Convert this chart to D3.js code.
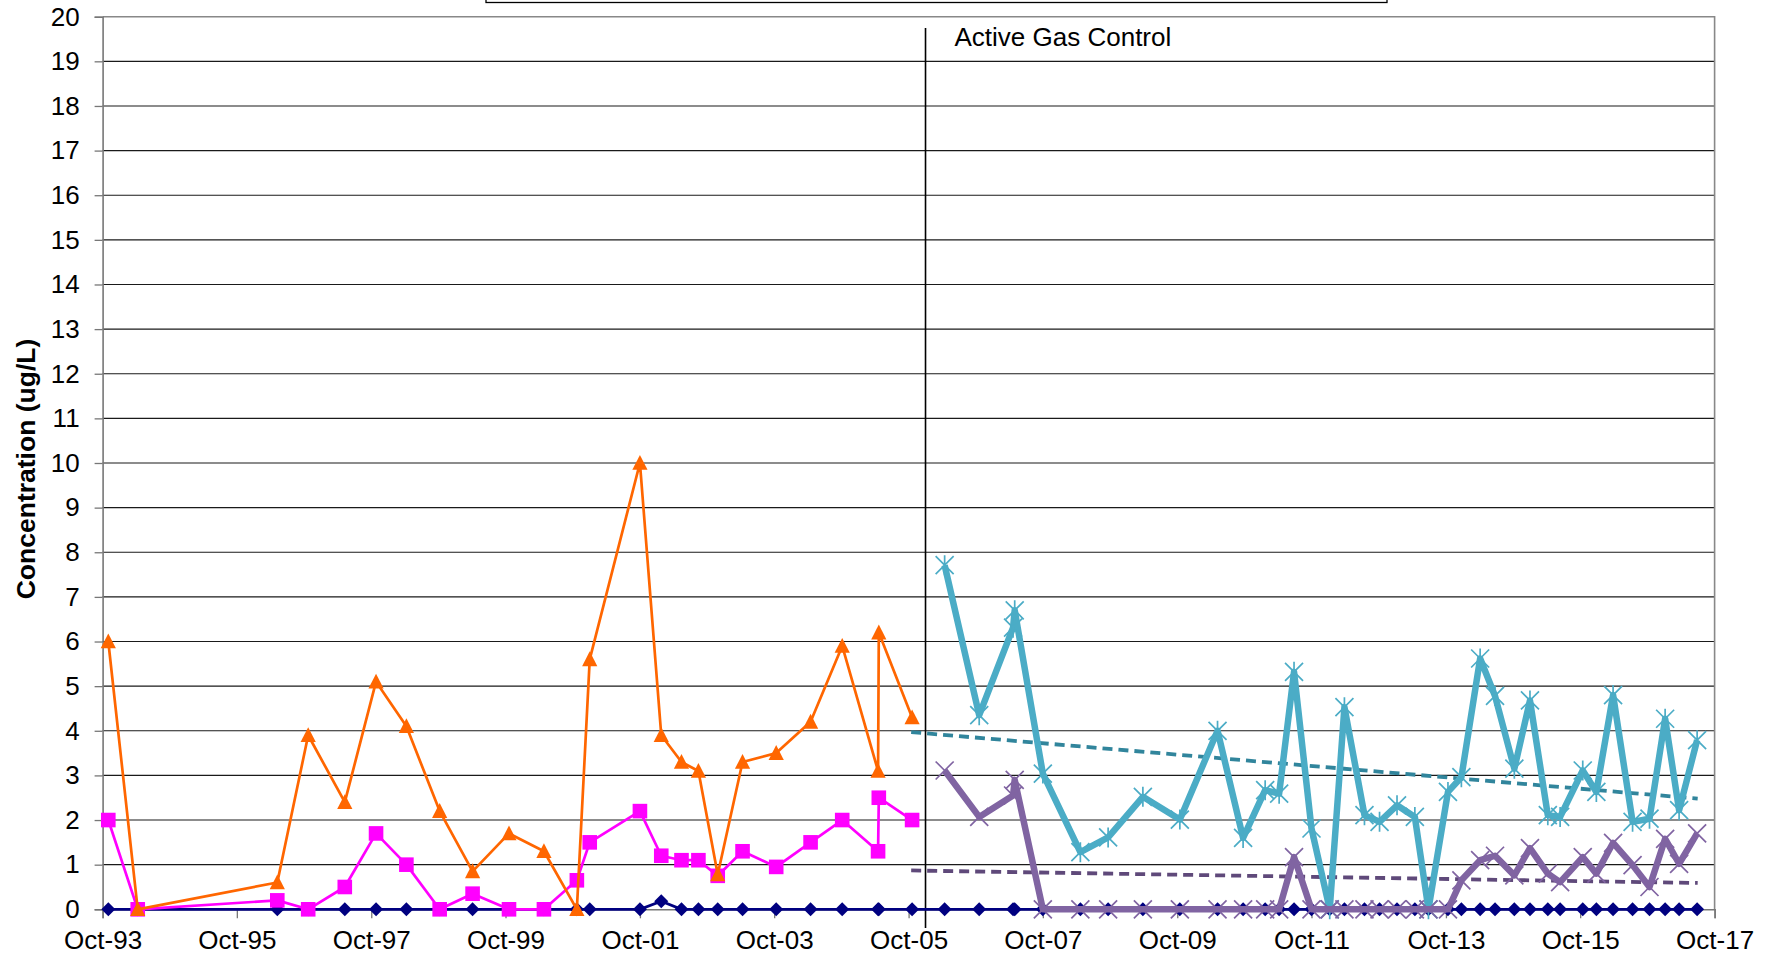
<!DOCTYPE html>
<html><head><meta charset="utf-8">
<script src="https://cdn.jsdelivr.net/npm/d3@7"></script>
<style>body{margin:0;background:#fff} svg{display:block} text{font-family:"Liberation Sans",Arial,sans-serif;fill:#000}</style>
</head><body>
<svg id="chart" width="1771" height="958"></svg>
<script>
// ---------- data ----------
const preDates = ["1993-11-01","1994-04-10","1996-05-08","1996-10-23","1997-05-10","1997-10-27","1998-04-10","1998-10-08","1999-04-05","1999-10-20","2000-04-27","2000-10-23","2001-01-01","2001-10-01","2002-01-25","2002-05-15","2002-08-15","2002-11-28","2003-04-12","2003-10-12","2004-04-16","2004-10-05","2005-04-18","2005-04-22","2005-10-20"];
const orangeValues  = [6.0,0,0.6,3.9,2.4,5.1,4.1,2.2,0.85,1.7,1.3,0,5.6,10.0,3.9,3.3,3.1,0.78,3.3,3.5,4.2,5.9,3.1,6.2,4.3];
const magentaValues = [2.0,0,0.2,0,0.5,1.7,1.0,0,0.35,0,0,0.65,1.5,2.2,1.2,1.1,1.1,0.75,1.3,0.95,1.5,2.0,1.3,2.5,2.0];
const navyPreValues = [0,0,0,0,0,0,0,0,0,0,0,0,0,0,0.18,0,0,0,0,0,0,0,0,0,0];

const postDates = ["2006-04-15","2006-10-20","2007-04-22","2007-05-01","2007-10-01","2008-04-22","2008-09-20","2009-03-28","2009-10-15","2010-05-08","2010-09-24","2011-01-22","2011-04-08","2011-06-28","2011-10-01","2012-01-08","2012-03-28","2012-07-15","2012-10-05","2013-01-08","2013-04-15","2013-06-28","2013-10-12","2013-12-24","2014-04-05","2014-06-25","2014-10-08","2015-01-01","2015-04-08","2015-06-14","2015-10-15","2015-12-28","2016-03-28","2016-07-12","2016-10-12","2017-01-05","2017-03-22","2017-06-28"];
const blueValues   = [7.71,4.35,6.31,6.70,3.04,1.28,1.61,2.52,2.01,4.0,1.60,2.67,2.59,5.32,1.81,0,4.53,2.11,1.96,2.33,2.07,0,2.63,2.96,5.62,4.78,3.15,4.68,2.11,2.07,3.11,2.63,4.80,1.96,2.03,4.27,2.22,3.79];
const purpleValues = [3.11,2.07,2.55,2.9,0,0,0,0,0,0,0,0,0,1.17,0,0,0,0,0,0,0,0,0,0.65,1.1,1.2,0.76,1.37,0.8,0.61,1.17,0.8,1.49,0.99,0.5,1.58,1.02,1.7];
const navyPostValues = [0,0,0,0,0,0,0,0,0,0,0,0,0,0,0,0,0,0,0,0,0,0,0,0,0,0,0,0,0,0,0,0,0,0,0,0,0,0];

const trendDates  = ["2005-10-15","2017-07-01"];
const blueTrend   = [3.97, 2.48];
const purpleTrend = [0.87, 0.59];
const activeGasDate = "2006-01-01";
const activeGasLabel = "Active Gas Control";
const xTickLabels = ["Oct-93","Oct-95","Oct-97","Oct-99","Oct-01","Oct-03","Oct-05","Oct-07","Oct-09","Oct-11","Oct-13","Oct-15","Oct-17"];
const yTicks = [0,1,2,3,4,5,6,7,8,9,10,11,12,13,14,15,16,17,18,19,20];
const yTitle = "Concentration (ug/L)";

// ---------- layout ----------
const L = 102.6, R = 1714.6, T = 16.7, B = 909.3;
const FONT = '"Liberation Sans",Arial,sans-serif';
const parseD = d3.timeParse("%Y-%m-%d");
const parseTick = d3.timeParse("%b-%y");
const tickDates = xTickLabels.map(parseTick);
const x = d3.scaleTime().domain([tickDates[0], tickDates[tickDates.length-1]]).range([L, R]);
const y = d3.scaleLinear().domain([0, 20]).range([B, T]);
const svg = d3.select("#chart");

const zip = (ds, vs) => ds.map((d,i) => ({date: parseD(d), v: vs[i]}));
const pre = {orange: zip(preDates, orangeValues), magenta: zip(preDates, magentaValues)};
const post = {blue: zip(postDates, blueValues), purple: zip(postDates, purpleValues)};
const navy = zip(preDates.concat(postDates), navyPreValues.concat(navyPostValues));

// legend box (cut off at top)
svg.append("rect").attr("x", 486).attr("y", -20).attr("width", 901).attr("height", 22.5)
  .attr("fill", "none").attr("stroke", "#000").attr("stroke-width", 1.3);

// gridlines
svg.append("g").selectAll("line").data(yTicks.filter(t => t > 0 && t < 20)).join("line")
  .attr("x1", L).attr("x2", R).attr("y1", d => y(d)).attr("y2", d => y(d))
  .attr("stroke", "#1a1a1a").attr("stroke-width", 1.1);

// plot border top/right
svg.append("path").attr("d", `M${L},${y(20)}H${R}V${B}`).attr("fill","none").attr("stroke","#888").attr("stroke-width",1.6);

// y axis
const yAxis = d3.axisLeft(y).tickValues(yTicks).tickSize(8).tickPadding(15).tickFormat(d3.format("d"));
const gy = svg.append("g").attr("transform", `translate(${L},0)`).call(yAxis);
gy.select(".domain").attr("stroke", "#777").attr("stroke-width", 1.6);
gy.selectAll(".tick line").attr("stroke", "#777").attr("stroke-width", 1.3);
gy.selectAll(".tick text").attr("font-size", 26).attr("font-family", FONT).attr("fill","#000");

// x axis
const xAxis = d3.axisBottom(x).tickValues(tickDates).tickSize(9).tickPadding(12).tickFormat((d,i) => xTickLabels[i]);
const gx = svg.append("g").attr("transform", `translate(0,${B})`).call(xAxis);
gx.select(".domain").attr("stroke", "#777").attr("stroke-width", 1.6);
gx.selectAll(".tick line").attr("stroke", "#777").attr("stroke-width", 1.3);
gx.selectAll(".tick text").attr("font-size", 26).attr("font-family", FONT).attr("fill","#000");

// y title
svg.append("text").attr("transform", `translate(35,469) rotate(-90)`).attr("text-anchor","middle")
  .attr("font-size", 26.5).attr("font-weight","bold").text(yTitle);

// active gas control line + label
const agx = x(parseD(activeGasDate));
svg.append("line").attr("x1", agx).attr("x2", agx).attr("y1", 28).attr("y2", 928).attr("stroke","#000").attr("stroke-width",1.6);
svg.append("text").attr("x", agx + 29).attr("y", 46).attr("font-size", 26).text(activeGasLabel);

const line = d3.line().x(d => x(d.date)).y(d => y(d.v));

// navy series
svg.append("path").datum(navy).attr("d", line).attr("fill","none").attr("stroke","#000080").attr("stroke-width",2.8);
svg.append("g").selectAll("path").data(navy).join("path")
  .attr("d","M0,-7L7,0L0,7L-7,0Z").attr("fill","#000080")
  .attr("transform", d => `translate(${x(d.date)},${y(d.v)})`);

// magenta
svg.append("path").datum(pre.magenta).attr("d", line).attr("fill","none").attr("stroke","#FF00FF").attr("stroke-width",2.7).attr("stroke-linejoin","round");
svg.append("g").selectAll("rect").data(pre.magenta).join("rect")
  .attr("x", d => x(d.date) - 7.3).attr("y", d => y(d.v) - 7.3).attr("width",14.6).attr("height",14.6).attr("fill","#FF00FF");

// orange
svg.append("path").datum(pre.orange).attr("d", line).attr("fill","none").attr("stroke","#FF6600").attr("stroke-width",2.7).attr("stroke-linejoin","round");
svg.append("g").selectAll("path").data(pre.orange).join("path")
  .attr("d","M0,-8L7.6,6.8L-7.6,6.8Z").attr("fill","#FF6600")
  .attr("transform", d => `translate(${x(d.date)},${y(d.v)})`);

// trend lines
const td = trendDates.map(parseD);
svg.append("path").datum(td.map((d,i)=>({date:d, v:blueTrend[i]}))).attr("d", line)
  .attr("fill","none").attr("stroke","#31859C").attr("stroke-width",3.8).attr("stroke-dasharray","10,6");
svg.append("path").datum(td.map((d,i)=>({date:d, v:purpleTrend[i]}))).attr("d", line)
  .attr("fill","none").attr("stroke","#5F497A").attr("stroke-width",3.8).attr("stroke-dasharray","10,6");

// blue series with asterisk markers
svg.append("path").datum(post.blue).attr("d", line).attr("fill","none").attr("stroke","#4BACC6").attr("stroke-width",6.5).attr("stroke-linejoin","round");
svg.append("g").selectAll("path").data(post.blue).join("path")
  .attr("d","M-9,-9L9,9M-9,9L9,-9M0,-10L0,10").attr("fill","none").attr("stroke","#4BACC6").attr("stroke-width",1.7)
  .attr("transform", d => `translate(${x(d.date)},${y(d.v)})`);

// purple series with X markers
svg.append("path").datum(post.purple).attr("d", line).attr("fill","none").attr("stroke","#8064A2").attr("stroke-width",6.5).attr("stroke-linejoin","round");
svg.append("g").selectAll("path").data(post.purple).join("path")
  .attr("d","M-9,-9L9,9M-9,9L9,-9").attr("fill","none").attr("stroke","#8064A2").attr("stroke-width",1.7)
  .attr("transform", d => `translate(${x(d.date)},${y(d.v)})`);
</script>
</body></html>
